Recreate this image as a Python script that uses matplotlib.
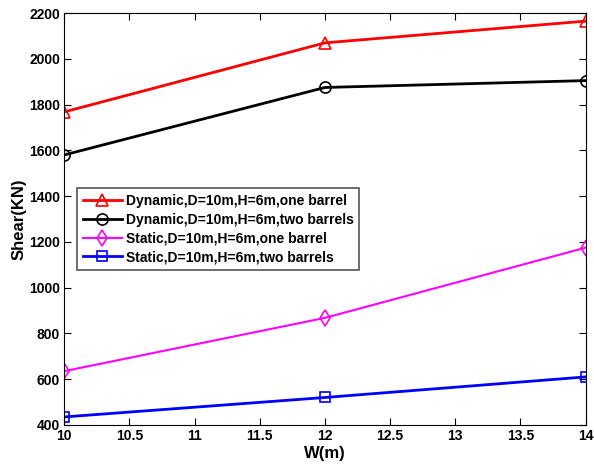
import numpy as np
import matplotlib.pyplot as plt

plt.rcParams['font.family'] = ['Liberation Sans', 'DejaVu Sans']
plt.rcParams['font.weight'] = 'bold'

W = [10, 12, 14]
dyn_one = [1768, 2070, 2165]
dyn_two = [1580, 1875, 1905]
sta_one = [635, 868, 1175]
sta_two = [435, 520, 610]
labels = ['Dynamic,D=10m,H=6m,one barrel',
          'Dynamic,D=10m,H=6m,two barrels',
          'Static,D=10m,H=6m,one barrel',
          'Static,D=10m,H=6m,two barrels']

fig = plt.figure(figsize=(5.94, 4.68), dpi=100)
ax = fig.add_axes([0.108, 0.092, 0.878, 0.880])

ax.plot(W, dyn_one, '-^', color='red', lw=2, ms=9, mfc='none', mew=1.2, label=labels[0])
ax.plot(W, dyn_two, '-o', color='black', lw=2, ms=8, mfc='none', mew=1.2, label=labels[1])
ax.plot(W, sta_one, '-d', color='magenta', lw=1.5, ms=8, mfc='none', mew=1.2, label=labels[2])
ax.plot(W, sta_two, '-s', color='blue', lw=2, ms=7, mfc='none', mew=1.2, label=labels[3])

ax.set_xlim(10, 14)
ax.set_ylim(400, 2200)
ax.set_xticks(np.arange(10, 14.01, 0.5))
ax.set_xticklabels(['10', '10.5', '11', '11.5', '12', '12.5', '13', '13.5', '14'])
ax.set_yticks(np.arange(400, 2201, 200))
ax.tick_params(direction='in', top=True, right=True, labelsize=10, length=5, pad=3)
for lab in ax.get_xticklabels() + ax.get_yticklabels():
    lab.set_fontweight('bold')
ax.set_xlabel('W(m)', fontsize=12, fontweight='bold', labelpad=2)
ax.set_ylabel('Shear(KN)', fontsize=12, fontweight='bold', labelpad=2)

leg = ax.legend(loc='upper left', bbox_to_anchor=(0.025, 0.575), fontsize=10,
                fancybox=False, edgecolor='#555555', framealpha=1,
                handlelength=2.8, borderaxespad=0, labelspacing=0.35,
                handletextpad=0.3, borderpad=0.4)
leg.get_frame().set_linewidth(1.2)
for t in leg.get_texts():
    t.set_fontweight('bold')

fig.savefig('out.png', dpi=100)
